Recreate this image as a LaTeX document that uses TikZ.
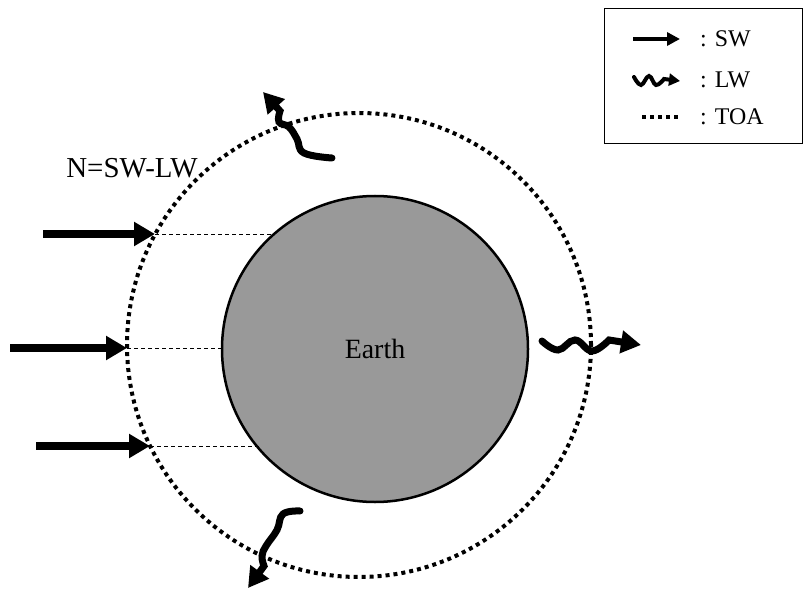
\documentclass[tikz,border=0pt]{standalone}
\usepackage{fontspec}
\setmainfont{Liberation Serif}
\usetikzlibrary{arrows.meta}
\begin{document}
\begin{tikzpicture}[x=1bp,y=-1bp,
  swarrow/.style={line width=8bp,-{Triangle[length=21bp,width=23bp]}},
  lwarrow/.style={line width=7bp,line cap=round,-{Triangle[length=20bp,width=22bp]}},
  toaline/.style={line width=4bp,dash pattern=on 4bp off 4bp},
  guide/.style={line width=0.8bp,dash pattern=on 4bp off 3bp},
  lbl/.style={font=\fontsize{24}{26}\selectfont,anchor=west,inner sep=0pt}]
\useasboundingbox (0,0) rectangle (803,590);
% TOA circle
\node[circle,draw,toaline,minimum size=464bp,inner sep=0pt] (toa) at (359,345) {};
% Earth
\node[circle,draw,line width=2.5bp,fill=black!40,minimum size=306bp,inner sep=0pt,
      font=\fontsize{28}{30}\selectfont] (earth) at (375,349) {Earth};
% SW arrows
\coordinate (s1) at (43,234);  \coordinate (t1) at (155,234); \coordinate (e1) at (274,234);
\coordinate (s2) at (10,348);  \coordinate (t2) at (127,348); \coordinate (e2) at (222,348);
\coordinate (s3) at (36,446);  \coordinate (t3) at (150,446); \coordinate (e3) at (259,446);
\draw[swarrow] (s1) -- (t1);
\draw[swarrow] (s2) -- (t2);
\draw[swarrow] (s3) -- (t3);
\draw[guide] (t1) -- (e1);
\draw[guide] (t2) -- (e2);
\draw[guide] (t3) -- (e3);
% LW arrows
\coordinate (w1) at (263,92);
\coordinate (w2) at (641,345);
\coordinate (w3) at (248,588);
\draw[lwarrow] plot[smooth,tension=0.7] coordinates {(332,158) (304,153) (297,139) (289,127) (279,122) (280,111)} -- (w1);
\draw[lwarrow] plot[smooth,tension=0.7] coordinates {(542,341) (558,350) (575,340) (592,351) (609,340)} -- (w2);
\draw[lwarrow] plot[smooth,tension=0.7] coordinates {(300,511) (283,514) (277,530) (266,546) (262,556) (264,566)} -- (w3);
% label
\node[font=\fontsize{29}{31}\selectfont,inner sep=0pt] (nlab) at (132,168) {N=SW-LW};
% legend
\node[draw,line width=0.8bp,minimum width=198bp,minimum height=135bp,inner sep=0pt] (leg) at (703,75.5) {};
\coordinate (l1a) at (633,39); \coordinate (l1b) at (680,39);
\draw[line width=4bp,-{Triangle[length=13bp,width=13bp]}] (l1a) -- (l1b);
\node[lbl] (lsw) at (700,39) {: SW};
\coordinate (l2b) at (680,81);
\draw[line width=4bp,line cap=round,-{Triangle[length=11bp,width=12bp]}] plot[smooth,tension=0.7] coordinates {(634,77) (641,85) (649,76) (656,85) (664,79)} -- (l2b);
\node[lbl] (llw) at (700,80) {: LW};
\coordinate (l3a) at (642,117); \coordinate (l3b) at (682,117);
\draw[toaline] (l3a) -- (l3b);
\node[lbl] (ltoa) at (700,117) {: TOA};
\end{tikzpicture}
\end{document}
